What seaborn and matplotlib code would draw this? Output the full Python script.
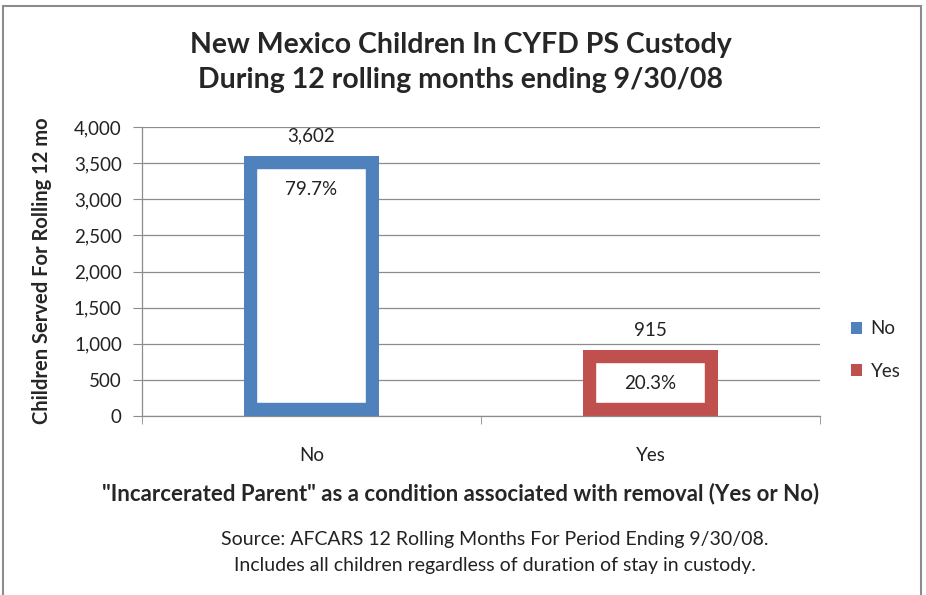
import matplotlib
matplotlib.use("Agg")
import pandas as pd
import matplotlib.pyplot as plt
from matplotlib.patches import Patch, Rectangle
from matplotlib.ticker import FuncFormatter, MultipleLocator
import seaborn as sns

# data
categories = ["No", "Yes"]
children = [3602, 915]
percent_labels = ["79.7%", "20.3%"]
bar_colors = ["#4F81BD", "#C0504D"]

sns.set_style("white")
plt.rcParams["font.family"] = ["Lato", "DejaVu Sans"]

W, H = 926, 595
fig = plt.figure(figsize=(W / 100, H / 100), dpi=100)
ax = fig.add_axes([142 / W, 1 - 416 / H, 678 / W, 289 / H])

df = pd.DataFrame({"Removal": categories, "Children": children})
sns.barplot(data=df, x="Removal", y="Children", hue="Removal", palette=bar_colors,
            width=0.4, saturation=1, legend=False, ax=ax)

# hollow bars with thick border drawn inside the bar
for patch, color in zip(ax.patches, bar_colors):
    patch.set_facecolor("white")
    patch.set_edgecolor(color)
    patch.set_linewidth(19)
    patch.set_clip_path(patch)

for i, (v, p) in enumerate(zip(children, percent_labels)):
    ax.annotate(f"{v:,}", (i, v), xytext=(0, 14), textcoords="offset points",
                ha="center", va="center", fontsize=13.5, color="#222222")
    ax.annotate(p, (i, v), xytext=(0, -24), textcoords="offset points",
                ha="center", va="center", fontsize=13.5, color="#222222")

ax.set_xlim(-0.5, 1.5)
ax.set_ylim(0, 4000)
ax.yaxis.set_major_locator(MultipleLocator(500))
ax.yaxis.set_major_formatter(FuncFormatter(lambda v, _: f"{int(v):,}"))
ax.yaxis.grid(True, color="#8c8c8c", lw=0.9)
ax.set_axisbelow(True)

for s in ["top", "right"]:
    ax.spines[s].set_visible(False)
for s in ["left", "bottom"]:
    ax.spines[s].set_color("#8c8c8c")
    ax.spines[s].set_linewidth(0.9)

ax.set_xticks([-0.5, 0.5, 1.5], minor=True)
ax.tick_params(axis="x", which="minor", length=5.5, color="#8c8c8c", direction="out", bottom=True)
ax.tick_params(axis="x", which="major", length=0, pad=22, labelsize=13.5, labelcolor="#222222")
ax.tick_params(axis="y", length=6.5, color="#8c8c8c", direction="out", left=True,
               labelsize=13.5, labelcolor="#222222", pad=8)
ax.set_xlabel("")
ax.set_ylabel("")

fig.text(461 / W, 1 - 45 / H, "New Mexico Children In CYFD PS Custody",
         ha="center", va="center", fontsize=20.5, fontweight="bold")
fig.text(461 / W, 1 - 80 / H, "During 12 rolling months ending 9/30/08",
         ha="center", va="center", fontsize=20.5, fontweight="bold")

fig.text(42 / W, 1 - 271 / H, "Children Served For Rolling 12 mo", rotation=90,
         ha="center", va="center", fontsize=14.5, fontweight="bold")
fig.text(461 / W, 1 - 494 / H,
         '"Incarcerated Parent" as a condition associated with removal (Yes or No)',
         ha="center", va="center", fontsize=16, fontweight="bold")
fig.text(495 / W, 1 - 540 / H, "Source: AFCARS 12 Rolling Months For Period Ending 9/30/08.",
         ha="center", va="center", fontsize=14, color="#222222")
fig.text(495 / W, 1 - 566 / H, "Includes all children regardless of duration of stay in custody.",
         ha="center", va="center", fontsize=14, color="#222222")

handles = [Patch(facecolor=c, edgecolor="none") for c in bar_colors]
fig.legend(handles, categories, loc="center left", bbox_to_anchor=(834 / W, 1 - 350 / H),
           frameon=False, handlelength=0.6, handleheight=0.6, handletextpad=0.45,
           labelspacing=1.35, fontsize=13.5)

# outer chart frame (open at the bottom of the crop)
fig.add_artist(Rectangle((3 / W, -0.05), 918 / W, 1.05 - 6 / H, transform=fig.transFigure,
                         fill=False, edgecolor="#8c8c8c", lw=1.5))

fig.savefig("out.png", dpi=100)
